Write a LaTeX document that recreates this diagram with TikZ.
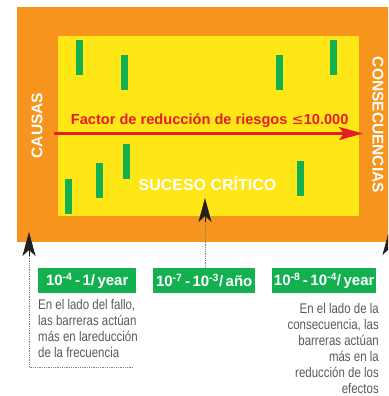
\documentclass[tikz,border=0pt]{standalone}
\usepackage{fontspec}
\setmainfont{Liberation Sans}
\newfontfamily\condfont[FakeStretch=0.82]{Liberation Sans}
\usetikzlibrary{arrows.meta}
\definecolor{orng}{HTML}{F7941D}
\definecolor{yel}{HTML}{FFE617}
\definecolor{grn}{HTML}{13B04F}
\definecolor{rd}{HTML}{E31E24}
\definecolor{blk}{HTML}{231F20}
\definecolor{gtxt}{HTML}{58595B}
\begin{document}
\begin{tikzpicture}[x=1pt,y=-1pt,
  bar/.style={fill=grn,draw=none},
  valbox/.style={fill=grn,text=white,font=\bfseries\fontsize{15}{15}\selectfont,
    minimum height=25pt,inner sep=0pt,anchor=north west},
  note/.style={text=gtxt,font=\condfont\fontsize{14}{16}\selectfont,inner sep=0pt},
  sidelabel/.style={text=white,font=\bfseries\fontsize{15.5}{15.5}\selectfont,inner sep=0pt},
  dotline/.style={gray,line width=0.8pt,densely dotted},
  blktip/.style={-{Stealth[length=24pt,width=13pt,inset=6pt]},blk,line width=0.6pt}]
\useasboundingbox (0,0) rectangle (388,396);
\clip (0,0) rectangle (388,396);
% frames
\fill[orng] (17,7) rectangle (392,242);
\fill[yel] (58,36) rectangle (359,216);
% barriers
\fill[bar] (76,40) rectangle (83,75);
\fill[bar] (121,55) rectangle (128,90);
\fill[bar] (276,55) rectangle (283,90);
\fill[bar] (330,40) rectangle (337,75);
\fill[bar] (65,179) rectangle (72,214);
\fill[bar] (96,163) rectangle (103,198);
\fill[bar] (123,144) rectangle (130,179);
\fill[bar] (297,161) rectangle (304,196);
% texts in frame
\node[text=rd,font=\bfseries\fontsize{14.6}{14.6}\selectfont,inner sep=0pt,anchor=base]
  (factor) at (209.7,124) {Factor de reducción de riesgos {\fontspec{DejaVu Sans}\mdseries ≤}10.000};
\coordinate (rs) at (54,133.5);
\coordinate (re) at (363,133.5);
\draw[rd,line width=3pt,-{Stealth[length=24pt,width=13pt,inset=5pt]}] (rs) -- (re);
\node[sidelabel,rotate=90] (causas) at (37,125.5) {CAUSAS};
\node[sidelabel,rotate=-90] (cons) at (378,125) {CONSECUENCIAS};
\node[text=white,font=\bfseries\fontsize{16}{16}\selectfont,inner sep=0pt,anchor=base]
  (suceso) at (207.5,190.7) {SUCESO CRÍTICO};
% value boxes
\node[valbox,minimum width=98pt] (b1) at (38,268) {10\textsuperscript{-4}\,-\,1/\,year};
\node[valbox,minimum width=102pt] (b2) at (153,268) {10\textsuperscript{-7}\,-\,10\textsuperscript{-3}/\,año};
\node[valbox,minimum width=104pt] (b3) at (272,268) {10\textsuperscript{-8}\,-\,10\textsuperscript{-4}/\,year};
% notes
\node[note,anchor=north west,align=left] (n1) at (38,299.3)
  {En el lado del fallo,\\las barreras actúan\\más en lareducción\\de la frecuencia};
\node[note,anchor=north east,align=right] (n3) at (379,302.7)
  {En el lado de la\\consecuencia, las\\barreras actúan\\más en la\\reducción de los\\efectos};
% black arrows
\coordinate (lt) at (29,232);
\coordinate (lb) at (29,256);
\coordinate (lc) at (29,367);
\coordinate (le) at (133,367);
\draw[dotline] (lb) -- (lc) -- (le);
\draw[blktip] (lb) -- (lt);
\coordinate (mt) at (205,198);
\coordinate (mb) at (205,222);
\draw[dotline] (mb) -- (b2.north -| mb);
\draw[blktip] (mb) -- (mt);
\coordinate (rt) at (389,231);
\coordinate (rb) at (389,255);
\coordinate (rend) at (389,400);
\draw[dotline] (rb) -- (rend);
\draw[blktip] (rb) -- (rt);
\end{tikzpicture}
\end{document}
